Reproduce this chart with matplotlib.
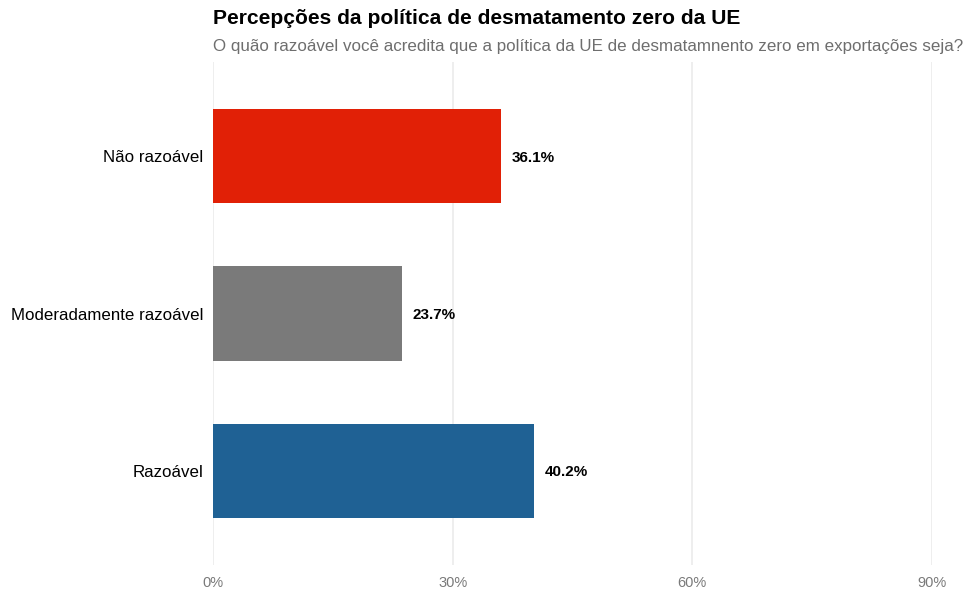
import matplotlib.pyplot as plt

plt.rcParams['font.family'] = ['Liberation Sans', 'DejaVu Sans']

categories = ["Razoável", "Moderadamente razoável", "Não razoável"]
values = [40.2, 23.7, 36.1]
colors = ["#1F6194", "#7A7A7A", "#E12006"]
x_ticks = [0, 30, 60, 90]
x_tick_labels = ["0%", "30%", "60%", "90%"]

fig = plt.figure(figsize=(9.64, 5.92), dpi=100)
ax = fig.add_axes([213 / 964, 27 / 592, 719 / 964, 503 / 592])

y_pos = list(range(len(categories)))
ax.barh(y_pos, values, height=0.6, color=colors, zorder=2)
for y, v in zip(y_pos, values):
    ax.text(v + 1.3, y - 0.01, f"{v:.1f}%", va="center", ha="left",
            fontsize=11, fontweight="bold", color="black")

ax.set_xlim(0, 90)
ax.set_ylim(-0.6, 2.6)
ax.set_xticks(x_ticks)
ax.set_xticklabels(x_tick_labels, fontsize=10.5, color="#7A7A7A")
ax.set_yticks(y_pos)
ax.set_yticklabels(categories, fontsize=12.2, color="black")
ax.tick_params(axis="both", length=0, pad=7)
ax.tick_params(axis="x", pad=8)
ax.grid(axis="x", color="#EBEBEB", linewidth=1.2, zorder=0)
for s in ax.spines.values():
    s.set_visible(False)

fig.text(213 / 964, 1 - 19 / 592, "Percepções da política de desmatamento zero da UE",
         fontsize=15.1, fontweight="bold", va="center", ha="left")
fig.text(213 / 964, 1 - 46 / 592,
         "O quão razoável você acredita que a política da UE de desmatamnento zero em exportações seja?",
         fontsize=12.25, color="#6E6E6E", va="center", ha="left")

fig.savefig("out.png", dpi=100)
